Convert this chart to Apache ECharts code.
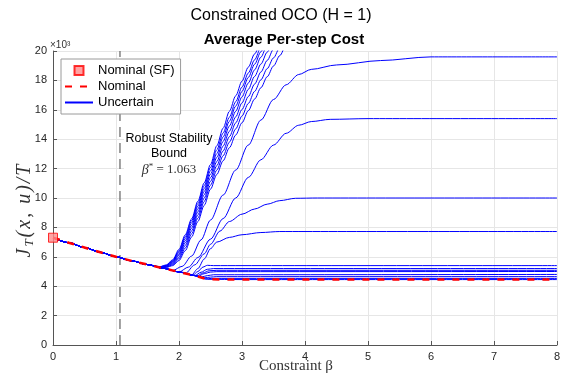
<!DOCTYPE html>
<html>
<head>
<meta charset="utf-8">
<script src="https://cdn.jsdelivr.net/npm/echarts@6/dist/echarts.min.js"></script>
<style>
  html, body { margin: 0; padding: 0; background: #fff; }
  #chart { width: 562px; height: 383px; }
</style>
</head>
<body>
<div id="chart"></div>
<script>
// robust stability bound
const betaStar = 1.063;

// nominal cost path
const nominalBeta = [0, 0.25, 0.5, 0.75, 1, 1.25, 1.5, 1.75, 2, 2.25, 2.45, 3, 4, 5, 6, 7, 8];
const nominalCost = [7300, 6960, 6630, 6310, 6000, 5720, 5470, 5220, 4970, 4720, 4470, 4450, 4450, 4450, 4450, 4450, 4450];

// uncertain runs that blow up past the top of the axis, sampled on a shared beta grid
const steepBeta = [1.7, 1.8, 1.9, 2.0, 2.1, 2.2, 2.3, 2.4, 2.5, 2.6, 2.7, 2.8, 2.9, 3.0, 3.1, 3.2, 3.3, 3.4, 3.5, 3.6, 3.7, 3.8];
const steep1 = [5330, 5450, 5800, 6500, 7500, 8580, 9780, 11030, 12280, 13550, 14750, 15900, 16950, 17950, 18900, 19800, 20600, 21400, 22100, 22800, 23500, 24100];
const steep2 = [5320, 5420, 5740, 6400, 7380, 8450, 9620, 10850, 12080, 13280, 14420, 15500, 16550, 17550, 18500, 19400, 20250, 21050, 21800, 22500, 23200, 23800];
const steep3 = [5310, 5400, 5690, 6300, 7250, 8300, 9450, 10650, 11850, 13020, 14150, 15220, 16250, 17250, 18200, 19100, 19950, 20750, 21500, 22200, 22900, 23500];
const steep4 = [5300, 5380, 5640, 6200, 7100, 8130, 9260, 10450, 11620, 12760, 13850, 14900, 15900, 16880, 17820, 18720, 19580, 20400, 21150, 21900, 22600, 23200];
const steep5 = [5290, 5350, 5580, 6100, 6950, 7950, 9060, 10230, 11380, 12480, 13530, 14540, 15520, 16470, 17390, 18270, 19110, 19920, 20700, 21450, 22150, 22800];
const steep6 = [5280, 5320, 5520, 5980, 6780, 7760, 8850, 10000, 11130, 12200, 13200, 14170, 15110, 16020, 16900, 17750, 18570, 19360, 20120, 20850, 21550, 22200];
const steep7 = [5270, 5300, 5460, 5870, 6600, 7560, 8630, 9760, 10870, 11900, 12870, 13800, 14700, 15580, 16430, 17250, 18040, 18800, 19530, 20230, 20900, 21550];
const steep8 = [5270, 5280, 5400, 5750, 6420, 7350, 8400, 9500, 10600, 11600, 12530, 13420, 14280, 15120, 15940, 16730, 17500, 18250, 18980, 19690, 20380, 21050];

// uncertain runs that settle on a plateau ([beta, cost] after leaving the nominal path)
const plateau19 = [[1.9, 5070], [2.05, 5350], [2.2, 6050], [2.35, 7150], [2.5, 8500], [2.7, 10200], [2.9, 11900], [3.1, 13600], [3.3, 15300], [3.5, 16700], [3.7, 17700], [3.9, 18400], [4.1, 18750], [4.5, 19050], [5.2, 19350], [6.0, 19600], [8, 19600]];
const plateau15 = [[2.0, 4970], [2.15, 5300], [2.3, 5950], [2.5, 7200], [2.7, 8600], [2.9, 10000], [3.1, 11400], [3.3, 12600], [3.5, 13600], [3.7, 14400], [3.9, 14950], [4.1, 15200], [4.4, 15350], [5.0, 15400], [8, 15400]];
const plateau10 = [[2.1, 4870], [2.25, 5450], [2.4, 6200], [2.5, 6850], [2.65, 7750], [2.8, 8400], [3.0, 8900], [3.2, 9250], [3.4, 9580], [3.6, 9820], [3.85, 9980], [4.2, 10000], [8, 10000]];
const plateau7 = [[2.2, 4770], [2.3, 5200], [2.4, 5850], [2.5, 6550], [2.6, 7000], [2.8, 7320], [3.0, 7500], [3.3, 7650], [3.6, 7720], [4.0, 7720], [8, 7720]];
const low1 = [[2.22, 4750], [2.3, 5000], [2.38, 5300], [2.45, 5420], [2.55, 5400], [3, 5400], [8, 5400]];
const low2 = [[2.25, 4720], [2.35, 4950], [2.45, 5150], [2.55, 5200], [8, 5200]];
const low3 = [[2.28, 4690], [2.38, 4900], [2.48, 5050], [2.6, 5080], [8, 5080]];
const low4 = [[2.3, 4670], [2.4, 4850], [2.5, 4960], [2.6, 4990], [8, 5000]];
const low5 = [[2.35, 4620], [2.45, 4720], [2.55, 4780], [8, 4800]];
const low6 = [[2.4, 4570], [2.5, 4620], [2.6, 4650], [8, 4650]];
const low7 = [[2.42, 4500], [2.52, 4530], [8, 4530]];

const nominalPoints = nominalBeta.map((b, i) => [b, nominalCost[i]]);
const steepRuns = [steep1, steep2, steep3, steep4, steep5, steep6, steep7, steep8]
  .map((costs) => steepBeta.map((b, i) => [b, costs[i]]));
const uncertainRuns = steepRuns.concat([plateau19, plateau15, plateau10, plateau7,
  low1, low2, low3, low4, low5, low6, low7]);

// every uncertain run follows the nominal path until it breaks away
function withNominalPrefix(tail) {
  const start = tail[0][0];
  return nominalPoints.filter((p) => p[0] < start).concat(tail);
}

const serif = "'Liberation Serif', 'Times New Roman', serif";
const sans = "'Liberation Sans', Arial, sans-serif";

const uncertainSeries = [nominalPoints].concat(uncertainRuns.map(withNominalPrefix)).map((data) => ({
  name: "Uncertain",
  type: "line",
  data: data,
  symbol: "none",
  smooth: 0.3,
  smoothMonotone: "x",
  lineStyle: { color: "#0000ff", width: 1 },
  itemStyle: { color: "#0000ff" },
  z: 2,
}));

const noMarker = { opacity: 0 };
const mathChar = { fontSize: 20, fontStyle: "italic", fontFamily: serif, color: "#333", padding: [0, 2, 0, 0] };

const chart = echarts.init(document.getElementById("chart"));

chart.setOption({
  animation: false,
  backgroundColor: "#fff",
  grid: { left: 53, right: 5, top: 51, bottom: 38, outerBoundsMode: "none" },
  legend: {
    orient: "vertical",
    left: 61,
    top: 59,
    padding: [5, 6, 5, 3],
    itemGap: 3,
    itemWidth: 28,
    itemHeight: 9,
    symbolKeepAspect: true,
    borderColor: "#9a9a9a",
    borderWidth: 1,
    backgroundColor: "#fff",
    textStyle: { fontSize: 13, color: "#000", fontFamily: sans },
    data: [
      { name: "Nominal (SF)", icon: "path://M0,0L10,0L10,10L0,10Z" },
      { name: "Nominal", itemStyle: noMarker },
      { name: "Uncertain", itemStyle: noMarker },
    ],
  },
  xAxis: {
    type: "value",
    min: 0,
    max: 8,
    interval: 1,
    name: "Constraint β",
    nameLocation: "middle",
    nameGap: 14,
    nameMoveOverlap: false,
    nameTextStyle: { fontSize: 15, color: "#333", fontFamily: serif, padding: [0, 18, 0, 0] },
    axisLine: { lineStyle: { color: "#555", width: 1 } },
    axisTick: { inside: true, length: 4, lineStyle: { color: "#555" } },
    axisLabel: { fontSize: 11, color: "#262626", margin: 6, fontFamily: sans },
    splitLine: { show: true, lineStyle: { color: "#e6e6e6", width: 1 } },
  },
  yAxis: {
    type: "value",
    min: 0,
    max: 20000,
    interval: 2000,
    name: "{i|J}{s|T}{i|(}{i|x}{i|,}{i| }{i|u}{i|)}{i|/}{i|T}",
    nameLocation: "middle",
    nameGap: 17,
    nameMoveOverlap: false,
    nameRotate: 90,
    nameTextStyle: {
      padding: [0, 24, 0, 0],
      rich: {
        i: mathChar,
        s: { fontSize: 13, fontStyle: "italic", fontFamily: serif, color: "#333", verticalAlign: "bottom", padding: [9, 2, 0, 0] },
      },
    },
    axisLine: { show: true, lineStyle: { color: "#555", width: 1 } },
    axisTick: { show: true, inside: true, length: 4, lineStyle: { color: "#555" } },
    axisLabel: { fontSize: 11, color: "#262626", margin: 6, fontFamily: sans, formatter: (v) => String(v / 1000) },
    splitLine: { show: true, lineStyle: { color: "#e6e6e6", width: 1 } },
  },
  graphic: [
    { type: "text", x: 281, y: 16, style: { text: "Constrained OCO (H = 1)", font: "16px " + sans, fill: "#000", textAlign: "center", textVerticalAlign: "middle" } },
    { type: "text", x: 284, y: 40, style: { text: "Average Per-step Cost", font: "bold 15px " + sans, fill: "#000", textAlign: "center", textVerticalAlign: "middle" } },
    { type: "text", x: 50, y: 45, style: { text: "×10³", font: "10px " + sans, fill: "#333", textAlign: "left", textVerticalAlign: "middle" } },
    // white box behind the annotation hides the grid lines
    { type: "rect", z: 1, shape: { x: 124, y: 130, width: 90, height: 49 }, style: { fill: "#fff" } },
    { type: "text", z: 5, x: 169, y: 139, style: { text: "Robust Stability", font: "12.5px " + sans, fill: "#000", textAlign: "center", textVerticalAlign: "middle" } },
    { type: "text", z: 5, x: 169, y: 154, style: { text: "Bound", font: "12.5px " + sans, fill: "#000", textAlign: "center", textVerticalAlign: "middle" } },
    {
      type: "text", z: 5, x: 169, y: 170,
      style: {
        text: "{b|β}{s|*}{n| = 1.063}",
        textAlign: "center", textVerticalAlign: "middle",
        rich: {
          b: { fontSize: 14, fontStyle: "italic", fontFamily: serif, fill: "#333" },
          s: { fontSize: 9, fontFamily: serif, fill: "#333", verticalAlign: "top", padding: [0, 0, 6, 0] },
          n: { fontSize: 13, fontFamily: serif, fill: "#333" },
        },
      },
    },
  ],
  series: [
    {
      name: "Robust bound",
      type: "line",
      data: [[betaStar, 0], [betaStar, 20000]],
      symbol: "none",
      lineStyle: { color: "#6e6e6e", width: 1.3, type: [10, 6] },
      z: 1,
      silent: true,
    },
    ...uncertainSeries,
    {
      name: "Nominal",
      type: "line",
      data: nominalPoints,
      symbol: "none",
      lineStyle: { color: "#ff0000", width: 2.5, type: [7, 8] },
      itemStyle: { color: "#ff0000" },
      z: 3,
    },
    {
      name: "Nominal (SF)",
      type: "scatter",
      data: [[nominalBeta[0], nominalCost[0]]],
      symbol: "rect",
      symbolSize: 9,
      clip: false,
      itemStyle: { color: "#ff8c8c", borderColor: "#ff0000", borderWidth: 1 },
      z: 4,
    },
  ],
});
</script>
</body>
</html>
